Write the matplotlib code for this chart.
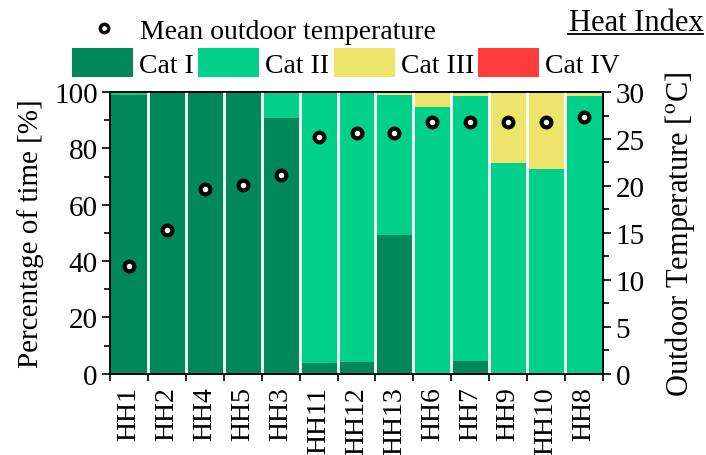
import matplotlib
matplotlib.use('Agg')
import matplotlib.pyplot as plt
from matplotlib.patches import Patch
from matplotlib.lines import Line2D
import numpy as np

# data
houses = ['HH1', 'HH2', 'HH4', 'HH5', 'HH3', 'HH11', 'HH12', 'HH13',
          'HH6', 'HH7', 'HH9', 'HH10', 'HH8']
cat1 = [99.0, 100, 100, 100, 90.8, 3.8, 4.1, 49.4, 0, 4.5, 0, 0, 0]
cat2 = [1.0, 0, 0, 0, 9.2, 96.2, 95.9, 49.6, 94.8, 94.2, 74.7, 72.6, 98.7]
cat3 = [0, 0, 0, 0, 0, 0, 0, 1.0, 5.2, 1.3, 25.3, 27.4, 1.3]
cat4 = [0, 0, 0, 0, 0, 0, 0, 0, 0, 0, 0, 0, 0]
t_out = [11.5, 15.3, 19.7, 20.1, 21.2, 25.2, 25.6, 25.6, 26.8, 26.8, 26.8, 26.8, 27.3]

cols = ['#00885A', '#00D08A', '#EDE46C', '#FF3C3C']
labels = ['Cat I', 'Cat II', 'Cat III', 'Cat IV']

plt.rcParams['font.family'] = 'Liberation Serif'
plt.rcParams['mathtext.fontset'] = 'stix'
fs = 20

fig = plt.figure(figsize=(7.06, 4.56), dpi=100)
ax = fig.add_axes([0.156, 0.178, 0.698, 0.618])

x = np.arange(len(houses))
bottom = np.zeros(len(houses))
for vals, c in zip([cat1, cat2, cat3, cat4], cols):
    ax.bar(x, vals, width=1.0, bottom=bottom, color=c, linewidth=0)
    bottom += np.array(vals)
# white gaps between the bars
for b in np.arange(0.5, len(houses) - 1, 1.0):
    ax.axvline(b, color='white', lw=2.0, zorder=3)

ax.set_xlim(-0.5, len(houses) - 0.5)
ax.set_ylim(0, 100)
ax.set_xticks(x)
ax.set_xticklabels(houses, rotation=90, fontsize=fs)
ax.set_xticks(np.arange(-0.5, len(houses), 1.0), minor=True)
ax.tick_params(axis='x', which='major', length=0, pad=9)
ax.tick_params(axis='x', which='minor', length=5, width=1.2, direction='out')
ax.set_yticks(np.arange(0, 101, 20))
ax.set_yticks(np.arange(0, 101, 10), minor=True)
ax.tick_params(axis='y', which='major', labelsize=21, length=6, width=1.2, direction='out', pad=3)
ax.tick_params(axis='y', which='minor', length=4, width=1.2, direction='out')
ax.set_ylabel('Percentage of time [%]', fontsize=21, labelpad=7)
for s in ax.spines.values():
    s.set_linewidth(1.2)

ax2 = ax.twinx()
ax2.plot(x, t_out, 'o', ms=7, mfc='white', mec='black', mew=3, zorder=5)
ax2.set_ylim(0, 30)
ax2.set_yticks(np.arange(0, 31, 5))
ax2.set_yticks(np.arange(0, 31, 2.5), minor=True)
ax2.tick_params(axis='y', which='major', labelsize=21, length=6, width=1.2, direction='out', pad=3)
ax2.tick_params(axis='y', which='minor', length=4, width=1.2, direction='out')
ax2.set_ylabel(r'Outdoor Temperature [$^{\mathrm{o}}$C]', fontsize=22, labelpad=13)
for s in ax2.spines.values():
    s.set_linewidth(1.2)

# legends
mk = Line2D([], [], ls='none', marker='o', ms=6, mfc='white', mec='black', mew=2.5)
fig.legend([mk], ['Mean outdoor temperature'], loc='center left',
           bbox_to_anchor=(0.1275, 0.93), frameon=False, fontsize=fs,
           handlelength=1.0, handletextpad=0.8, borderpad=0, borderaxespad=0)
patches = [Patch(facecolor=c, edgecolor='none') for c in cols]
fig.legend(patches, labels, loc='center left', bbox_to_anchor=(0.102, 0.86),
           ncol=4, frameon=False, fontsize=fs, handlelength=2.2, handleheight=1.25,
           handletextpad=0.22, columnspacing=0.15, borderpad=0, borderaxespad=0)

fig.text(0.996, 0.932, 'Heat Index', ha='right', va='baseline', fontsize=22)
fig.add_artist(Line2D([0.805, 0.996], [0.924, 0.924], color='black', lw=1.3,
                      transform=fig.transFigure))

fig.savefig('out.png', dpi=100)
